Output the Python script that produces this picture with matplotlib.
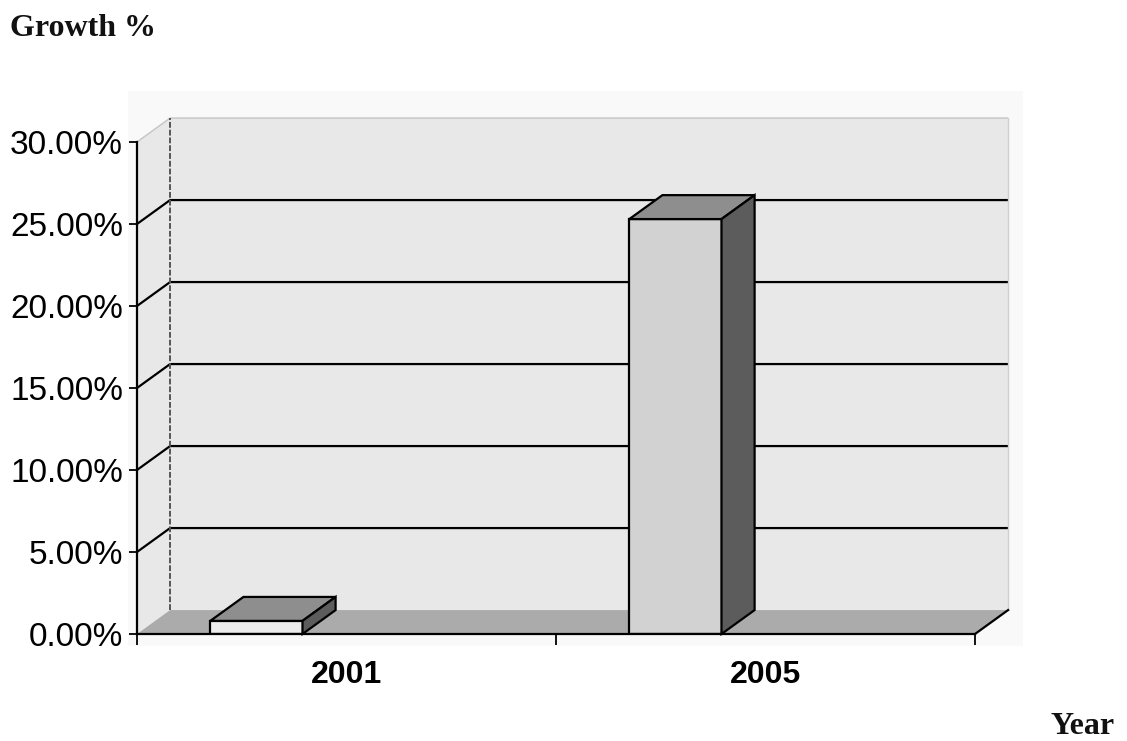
import matplotlib
matplotlib.use("Agg")
import matplotlib.pyplot as plt
from matplotlib.patches import Polygon, Rectangle
from matplotlib.ticker import FuncFormatter

# Data
years = ["2001", "2005"]
growth = [0.8, 25.3]          # percent
y_ticks = [0, 5, 10, 15, 20, 25, 30]

# Pseudo-3D geometry (data units)
DX, DY = 0.079, 1.46          # depth offset of the wall / bars
BAR_W = 0.22
BAR_OFF = 0.175               # left edge of bar within its category
Y_MAX = 30

WALL = "#e8e8e8"
FLOOR = "#ababab"
FRONT = ["#ececec", "#d2d2d2"]
TOP = "#8e8e8e"
SIDE = "#5c5c5c"

plt.rcParams["font.family"] = ["Liberation Sans", "DejaVu Sans"]

fig = plt.figure(figsize=(11.27, 7.41), dpi=100)
fig.patch.set_facecolor("white")
ax = fig.add_axes([137 / 1127, 107 / 741, 838 / 1127, 492 / 741])
ax.set_xlim(0, len(years))
ax.set_ylim(0, Y_MAX)
ax.patch.set_visible(False)
for s in ("top", "right"):
    ax.spines[s].set_visible(False)
for s in ("left", "bottom"):
    ax.spines[s].set_linewidth(1.6)
    ax.spines[s].set_zorder(6)

n = len(years)

# chart area tint
fig.patches.append(Rectangle((128 / 1127, 95 / 741), 895 / 1127, 555 / 741,
                             transform=fig.transFigure, facecolor="#f9f9f9",
                             edgecolor="none", zorder=-5))

# side wall, back wall and floor
ax.add_patch(Polygon([(0, 0), (0, Y_MAX), (DX, Y_MAX + DY), (DX, DY)],
                     closed=True, facecolor=WALL, edgecolor="none",
                     zorder=0, clip_on=False))
ax.add_patch(Polygon([(DX, DY), (DX, Y_MAX + DY), (n + DX, Y_MAX + DY), (n + DX, DY)],
                     closed=True, facecolor=WALL, edgecolor="none",
                     zorder=0, clip_on=False))
ax.add_patch(Polygon([(0, 0), (n, 0), (n + DX, DY), (DX, DY)],
                     closed=True, facecolor=FLOOR, edgecolor="none",
                     zorder=1, clip_on=False))

# gridlines on the side and back walls
for t in y_ticks[1:]:
    col, lw = ("#c4c4c4", 1.0) if t == Y_MAX else ("black", 1.6)
    ax.plot([0, DX, n + DX], [t, t + DY, t + DY], color=col, lw=lw,
            zorder=2, clip_on=False, solid_capstyle="butt")
ax.plot([DX, DX], [DY, Y_MAX + DY], color="#555555", lw=1.4, ls=(0, (3, 1)),
        zorder=2, clip_on=False)
ax.plot([n + DX, n + DX], [DY, Y_MAX + DY], color="#cfcfcf", lw=1.0,
        zorder=2, clip_on=False)
# floor right edge
ax.plot([n, n + DX], [0, DY], color="black", lw=1.6, zorder=6, clip_on=False)

# bars: front face via ax.bar, top and side faces as polygons
lefts = [i + BAR_OFF for i in range(n)]
ax.bar(lefts, growth, width=BAR_W, align="edge", color=FRONT,
       edgecolor="black", linewidth=1.6, zorder=4)
for x0, v in zip(lefts, growth):
    x1 = x0 + BAR_W
    ax.add_patch(Polygon([(x0, v), (x1, v), (x1 + DX, v + DY), (x0 + DX, v + DY)],
                         closed=True, facecolor=TOP, edgecolor="black",
                         linewidth=1.6, zorder=4, clip_on=False))
    ax.add_patch(Polygon([(x1, 0), (x1 + DX, DY), (x1 + DX, v + DY), (x1, v)],
                         closed=True, facecolor=SIDE, edgecolor="black",
                         linewidth=1.6, zorder=4, clip_on=False))

# value axis
ax.set_yticks(y_ticks)
ax.yaxis.set_major_formatter(FuncFormatter(lambda v, p: f"{v:.2f}%"))
ax.tick_params(axis="y", direction="out", length=6, width=1.3, pad=4,
               labelsize=24, colors="black")

# category axis
ax.set_xticks(range(n + 1))
ax.set_xticklabels([])
ax.tick_params(axis="x", which="major", direction="out", length=8, width=1.3)
ax.set_xticks([i + 0.5 for i in range(n)], minor=True)
ax.set_xticklabels(years, minor=True, fontsize=23, fontweight="bold")
ax.tick_params(axis="x", which="minor", length=0, pad=19)

# axis titles
fig.text(10 / 1127, 1 - 14 / 741, "Growth %", ha="left", va="top",
         fontsize=23, fontweight="bold", family=["Liberation Serif", "DejaVu Serif"],
         color="#111111")
fig.text(1115 / 1127, 1 - 734 / 741, "Year", ha="right", va="baseline",
         fontsize=23, fontweight="bold", family=["Liberation Serif", "DejaVu Serif"],
         color="#111111")

fig.savefig("out.png", dpi=100)
